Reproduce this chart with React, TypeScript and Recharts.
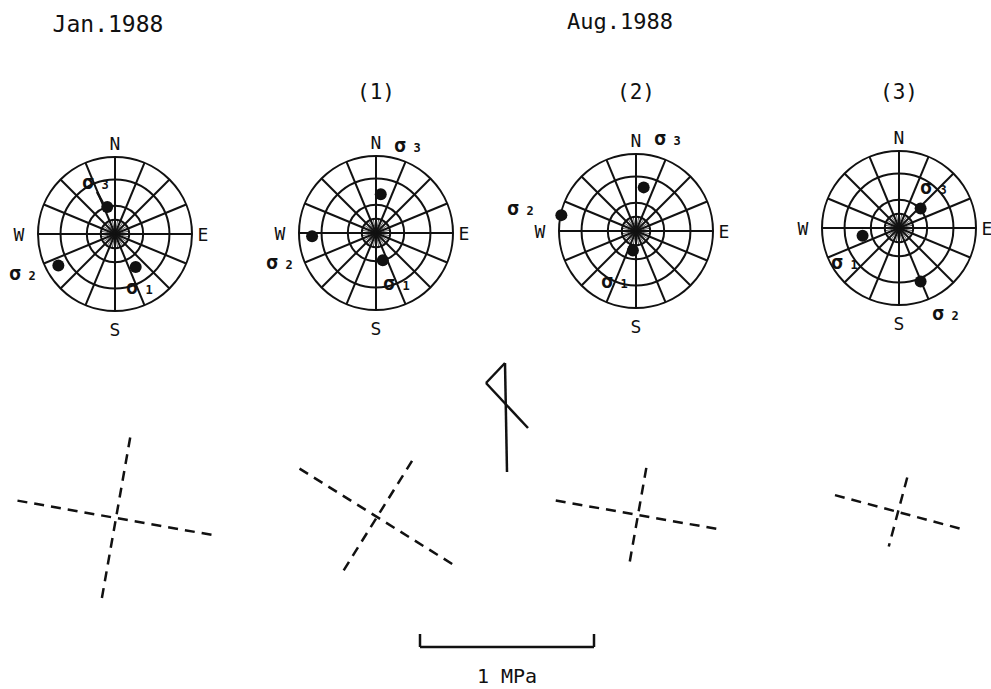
import React from 'react';
import {
  RadarChart,
  PolarGrid,
  PolarAngleAxis,
  ScatterChart,
  Scatter,
  XAxis,
  YAxis,
  ReferenceLine,
} from 'recharts';

const W = 991;
const H = 689;
const FONT = '"DejaVu Sans Mono", "Liberation Mono", monospace';
const INK = '#111';

// compass directions of the net (16 spokes) and plunge of the grid circles
const directions = ['N', 'NNE', 'NE', 'ENE', 'E', 'ESE', 'SE', 'SSE', 'S', 'SSW', 'SW', 'WSW', 'W', 'WNW', 'NW', 'NNW'];
const gridPlunges = [75, 60, 30, 0];
const innerSpokeCount = 32;

const netTitles = ['', '(1)', '(2)', '(3)'];

// principal stress axes, lower hemisphere (deg)
const s1Trend = [148, 166, 189, 258];
const s1Plunge = [48, 60, 69, 50];
const s2Trend = [241, 267, 282, 158];
const s2Plunge = [17, 18, 1, 26];
const s3Trend = [344, 7, 10, 48];
const s3Plunge = [60, 48, 42, 59];

// horizontal principal stresses (MPa), azimuth of the larger one (deg)
const shMaxAzimuth = [100, 122, 100, 105];
const shMax = [1.15, 1.05, 0.96, 0.75];
const shMin = [0.94, 0.76, 0.55, 0.41];

// ---- layout ----
const NETS = [
  { cx: 115, cy: 234 },
  { cx: 376, cy: 233 },
  { cx: 636, cy: 231 },
  { cx: 899, cy: 228 },
];
const NET_R = 77;
const CROSSES = [
  { x: 116, y: 518 },
  { x: 377, y: 517 },
  { x: 638, y: 515 },
  { x: 898, y: 512 },
];
const MPA_PX = 174;
const BAR = { x: 420, y: 647 };

// sigma label positions relative to net centre, order s1, s2, s3
const SIGMA_LABELS = [
  [[17, 53], [-100, 39], [-27, -52]],
  [[13, 50], [-104, 29], [24, -88]],
  [[-29, 50], [-123, -23], [24, -93]],
  [[-62, 34], [39, 85], [27, -41]],
];

const rad = (d: number) => (d * Math.PI) / 180;
// equal-area (Schmidt) projection, 1 = primitive circle
const eqArea = (plunge: number) => Math.SQRT2 * Math.sin(rad((90 - plunge) / 2));

const gridRadii = gridPlunges.map((p) => eqArea(p) * NET_R);
const spokeAngles = directions.map((_, i) => 90 - (i * 360) / directions.length);
const innerAngles = Array.from({ length: innerSpokeCount }, (_, i) => 90 - (i * 360) / innerSpokeCount);
const dirData = directions.map((d) => ({ dir: d }));

const trends = [s1Trend, s2Trend, s3Trend];
const plunges = [s1Plunge, s2Plunge, s3Plunge];

const dots = NETS.flatMap((c, i) =>
  trends.map((t, k) => {
    const r = eqArea(plunges[k][i]) * NET_R;
    return { x: c.cx + r * Math.sin(rad(t[i])), y: c.cy - r * Math.cos(rad(t[i])) };
  })
);

const sigmaLabels = NETS.flatMap((c, i) =>
  SIGMA_LABELS[i].map((o, k) => ({ x: c.cx + o[0], y: c.cy + o[1], n: k + 1 }))
);

const texts = [
  { x: 108, y: 24, text: 'Jan.1988', size: 23 },
  { x: 620, y: 21, text: 'Aug.1988', size: 22 },
  ...NETS.filter((_, i) => netTitles[i]).map((c, i) => ({ x: c.cx, y: 92, text: netTitles[i + 1], size: 21 })),
  { x: BAR.x + MPA_PX / 2, y: 676, text: '1 MPa', size: 20 },
];

const seg = (c: { x: number; y: number }, az: number, len: number) => {
  const h = (len * MPA_PX) / 2;
  const dx = h * Math.sin(rad(az));
  const dy = -h * Math.cos(rad(az));
  return [
    { x: c.x - dx, y: c.y - dy },
    { x: c.x + dx, y: c.y + dy },
  ];
};

const crossSegments = CROSSES.flatMap((c, i) => [
  seg(c, shMaxAzimuth[i], shMax[i]),
  seg(c, shMaxAzimuth[i] + 90, shMin[i]),
]);

const solidSegments = [
  // north arrow
  [{ x: 505, y: 363 }, { x: 507, y: 472 }],
  [{ x: 505, y: 363 }, { x: 486, y: 383 }],
  [{ x: 486, y: 383 }, { x: 528, y: 428 }],
  // scale bar
  [{ x: BAR.x, y: BAR.y }, { x: BAR.x + MPA_PX, y: BAR.y }],
  [{ x: BAR.x, y: BAR.y - 13 }, { x: BAR.x, y: BAR.y }],
  [{ x: BAR.x + MPA_PX, y: BAR.y - 13 }, { x: BAR.x + MPA_PX, y: BAR.y }],
  // leader
  [{ x: 97, y: 192 }, { x: 103, y: 203 }],
];

const NUDGE: Record<string, [number, number]> = { N: [0, 0], E: [-3, 0], S: [0, 4], W: [-5, 0] };

const CompassTick = (props: any) => {
  const { x, y, payload } = props;
  const v = payload?.value;
  if (!NUDGE[v]) return null;
  return (
    <text
      x={x + NUDGE[v][0]}
      y={y + NUDGE[v][1]}
      textAnchor="middle"
      dominantBaseline="central"
      fontFamily={FONT}
      fontSize={18}
      fill={INK}
    >
      {v}
    </text>
  );
};

const TextShape = (props: any) => {
  const { cx, cy, payload } = props;
  return (
    <text x={cx} y={cy} textAnchor="middle" dominantBaseline="central" fontFamily={FONT} fontSize={payload.size} fill={INK}>
      {payload.text}
    </text>
  );
};

const SigmaShape = (props: any) => {
  const { cx, cy, payload } = props;
  return (
    <g>
      <text x={cx} y={cy} textAnchor="middle" dominantBaseline="central" fontFamily={FONT} fontSize={20} fontWeight="bold" fill={INK}>
        σ
      </text>
      <text x={cx + 17} y={cy + 3} textAnchor="middle" dominantBaseline="central" fontFamily={FONT} fontSize={12} fontWeight="bold" fill={INK}>
        {payload.n}
      </text>
    </g>
  );
};

const layer: React.CSSProperties = { position: 'absolute', left: 0, top: 0 };
const noMargin = { top: 0, right: 0, bottom: 0, left: 0 };

export default function App() {
  return (
    <div style={{ position: 'absolute', left: 0, top: 0, width: W, height: H, background: '#fff' }}>
      {NETS.map((c, i) => (
        <div key={`inner-${i}`} style={layer}>
          <RadarChart
            width={W}
            height={H}
            cx={c.cx}
            cy={c.cy}
            innerRadius={4}
            outerRadius={gridRadii[0]}
            margin={noMargin}
            data={dirData}
          >
            <PolarGrid gridType="circle" polarAngles={innerAngles} polarRadius={[]} stroke="#333" strokeWidth={0.8} />
          </RadarChart>
        </div>
      ))}
      {NETS.map((c, i) => (
        <div key={`net-${i}`} style={layer}>
          <RadarChart width={W} height={H} cx={c.cx} cy={c.cy} outerRadius={NET_R} margin={noMargin} data={dirData}>
            <PolarGrid
              gridType="circle"
              polarAngles={spokeAngles}
              polarRadius={gridRadii}
              stroke={INK}
              strokeWidth={2}
            />
            <PolarAngleAxis dataKey="dir" axisLine={false} tickLine={false} tickSize={14} tick={<CompassTick />} />
          </RadarChart>
        </div>
      ))}
      <div style={layer}>
        <ScatterChart width={W} height={H} margin={noMargin}>
          <XAxis type="number" dataKey="x" domain={[0, W]} hide />
          <YAxis type="number" dataKey="y" domain={[0, H]} reversed hide />
          {crossSegments.map((s, i) => (
            <ReferenceLine
              key={`cross-${i}`}
              segment={s}
              stroke={INK}
              strokeWidth={2.5}
              strokeDasharray="10 7"
              ifOverflow="visible"
            />
          ))}
          {solidSegments.map((s, i) => (
            <ReferenceLine key={`solid-${i}`} segment={s} stroke={INK} strokeWidth={2.5} ifOverflow="visible" />
          ))}
          <Scatter
            data={dots}
            isAnimationActive={false}
            shape={(p: any) => <circle cx={p.cx} cy={p.cy} r={6} fill={INK} />}
          />
          <Scatter data={sigmaLabels} isAnimationActive={false} shape={<SigmaShape />} />
          <Scatter data={texts} isAnimationActive={false} shape={<TextShape />} />
        </ScatterChart>
      </div>
    </div>
  );
}
